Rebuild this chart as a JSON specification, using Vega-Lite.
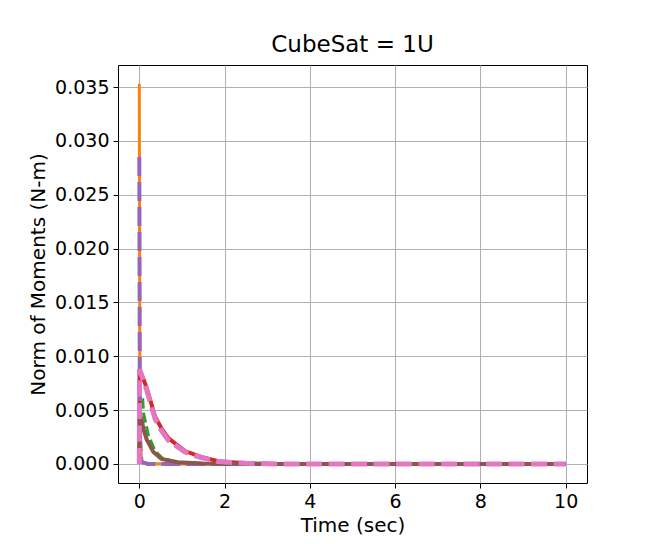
{
  "$schema": "https://vega.github.io/schema/vega-lite/v6.json",
  "width": 469,
  "height": 418,
  "autosize": "none",
  "padding": {"left": 118, "top": 65, "right": 67, "bottom": 61},
  "background": "white",
  "title": {"text": "CubeSat = 1U", "fontSize": 23, "font": "DejaVu Sans", "fontWeight": "normal", "color": "black", "offset": 8},
  "config": {
    "view": {"stroke": "black", "strokeWidth": 1},
    "axis": {
      "domain": false,
      "grid": true,
      "gridColor": "#b0b0b0",
      "gridWidth": 1,
      "tickColor": "black",
      "tickSize": 5,
      "tickWidth": 1,
      "labelFont": "DejaVu Sans",
      "labelFontSize": 19,
      "labelColor": "black",
      "labelPadding": 4,
      "titleFont": "DejaVu Sans",
      "titleFontSize": 20,
      "titleFontWeight": "normal",
      "titleColor": "black"
    }
  },
  "datasets": {
    "d": [
      {"s": "blue", "t": 0, "m": 0.0001},
      {"s": "blue", "t": 0.5, "m": 0.00005},
      {"s": "blue", "t": 10, "m": 0},
      {"s": "orange", "t": 0, "m": 0.0353},
      {"s": "orange", "t": 0.01, "m": 0.012},
      {"s": "orange", "t": 0.02, "m": 0.003},
      {"s": "orange", "t": 0.05, "m": 0.0003},
      {"s": "orange", "t": 0.1, "m": 0.0001},
      {"s": "orange", "t": 0.3, "m": 0},
      {"s": "orange", "t": 10, "m": 0},
      {"s": "green", "t": 0, "m": 0},
      {"s": "green", "t": 0.005, "m": 0.0062},
      {"s": "green", "t": 0.08, "m": 0.006},
      {"s": "green", "t": 0.1, "m": 0.0047},
      {"s": "green", "t": 0.21, "m": 0.0027},
      {"s": "green", "t": 0.37, "m": 0.0012},
      {"s": "green", "t": 0.55, "m": 0.0005},
      {"s": "green", "t": 0.9, "m": 0.00015},
      {"s": "green", "t": 1.5, "m": 0.00003},
      {"s": "green", "t": 2.5, "m": 0},
      {"s": "green", "t": 10, "m": 0},
      {"s": "red", "t": 0, "m": 0},
      {"s": "red", "t": 0.005, "m": 0.0088},
      {"s": "red", "t": 0.17, "m": 0.0071},
      {"s": "red", "t": 0.37, "m": 0.0044},
      {"s": "red", "t": 0.52, "m": 0.0033},
      {"s": "red", "t": 0.68, "m": 0.0024},
      {"s": "red", "t": 1.07, "m": 0.0012},
      {"s": "red", "t": 1.45, "m": 0.00065},
      {"s": "red", "t": 1.85, "m": 0.00025},
      {"s": "red", "t": 2.5, "m": 0.00007},
      {"s": "red", "t": 3.2, "m": 0},
      {"s": "red", "t": 10, "m": 0},
      {"s": "purple", "t": 0, "m": 0.0285},
      {"s": "purple", "t": 0.01, "m": 0.009},
      {"s": "purple", "t": 0.02, "m": 0.002},
      {"s": "purple", "t": 0.05, "m": 0.0002},
      {"s": "purple", "t": 0.2, "m": 0},
      {"s": "purple", "t": 10, "m": 0},
      {"s": "brown", "t": 0, "m": 0},
      {"s": "brown", "t": 0.01, "m": 0.0046},
      {"s": "brown", "t": 0.05, "m": 0.0042},
      {"s": "brown", "t": 0.1, "m": 0.0032},
      {"s": "brown", "t": 0.17, "m": 0.0023},
      {"s": "brown", "t": 0.33, "m": 0.0011},
      {"s": "brown", "t": 0.52, "m": 0.00046},
      {"s": "brown", "t": 0.9, "m": 0.00015},
      {"s": "brown", "t": 1.5, "m": 0.00003},
      {"s": "brown", "t": 2.5, "m": 0},
      {"s": "brown", "t": 10, "m": 0},
      {"s": "pink", "t": 0, "m": 0},
      {"s": "pink", "t": 0.005, "m": 0.0088},
      {"s": "pink", "t": 0.17, "m": 0.0069},
      {"s": "pink", "t": 0.37, "m": 0.0042},
      {"s": "pink", "t": 0.52, "m": 0.0031},
      {"s": "pink", "t": 0.68, "m": 0.0022},
      {"s": "pink", "t": 1.07, "m": 0.0011},
      {"s": "pink", "t": 1.45, "m": 0.0006},
      {"s": "pink", "t": 1.84, "m": 0.00022},
      {"s": "pink", "t": 2.5, "m": 0.00006},
      {"s": "pink", "t": 3.2, "m": 0},
      {"s": "pink", "t": 10, "m": 0}
    ]
  },
  "data": {"name": "d"},
  "encoding": {
    "x": {"field": "t", "type": "quantitative", "title": "Time (sec)",
      "scale": {"domain": [-0.5, 10.5], "nice": false, "zero": false},
      "axis": {"values": [0, 2, 4, 6, 8, 10], "titlePadding": 4}},
    "y": {"field": "m", "type": "quantitative", "title": "Norm of Moments (N-m)",
      "scale": {"domain": [-0.00177, 0.03705], "nice": false, "zero": false},
      "axis": {"values": [0, 0.005, 0.01, 0.015, 0.02, 0.025, 0.03, 0.035], "format": ".3f", "titlePadding": 6}},
    "order": {"field": "t", "type": "quantitative"}
  },
  "layer": [
    {"transform": [{"filter": "datum.s === 'blue'"}], "mark": {"type": "line", "color": "#1f77b4", "strokeWidth": 1.5}},
    {"transform": [{"filter": "datum.s === 'orange'"}], "mark": {"type": "line", "color": "#ff7f0e", "strokeWidth": 3}},
    {"transform": [{"filter": "datum.s === 'green'"}], "mark": {"type": "line", "color": "#2ca02c", "strokeWidth": 3, "strokeDash": [10, 4]}},
    {"transform": [{"filter": "datum.s === 'red'"}], "mark": {"type": "line", "color": "#d62728", "strokeWidth": 4}},
    {"transform": [{"filter": "datum.s === 'purple'"}], "mark": {"type": "line", "color": "#9467bd", "strokeWidth": 4, "strokeDash": [19, 6]}},
    {"transform": [{"filter": "datum.s === 'brown'"}], "mark": {"type": "line", "color": "#8c564b", "strokeWidth": 4}},
    {"transform": [{"filter": "datum.s === 'pink'"}], "mark": {"type": "line", "color": "#e377c2", "strokeWidth": 5, "strokeDash": [16, 6.5]}}
  ]
}
